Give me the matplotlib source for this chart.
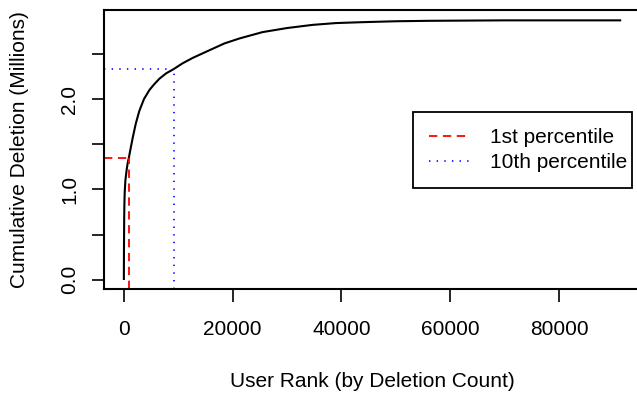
import matplotlib
matplotlib.use("Agg")
import matplotlib.pyplot as plt
from matplotlib.patches import Rectangle

plt.rcParams['font.family'] = ['Liberation Sans', 'DejaVu Sans']
plt.rcParams['lines.scale_dashes'] = False

# user rank vs cumulative deletions (millions)
rank = [1, 10, 30, 60, 100, 150, 280, 520, 700, 913, 1200, 1620, 2200, 2850,
        3700, 4700, 5600, 6540, 7800, 9130, 10800, 12670, 15750, 18500, 21270,
        25500, 30000, 34700, 39000, 43900, 50000, 56260, 70000, 91250]
cum_deletion = [0.01, 0.20, 0.45, 0.68, 0.85, 0.96, 1.10, 1.22, 1.29, 1.35, 1.44, 1.57, 1.73, 1.87,
                2.00, 2.10, 2.165, 2.225, 2.285, 2.33, 2.395, 2.455, 2.54, 2.615, 2.67,
                2.74, 2.785, 2.82, 2.84, 2.85, 2.86, 2.865, 2.87, 2.87]

p1_rank, p1_value = 913, 1.35     # 1st percentile
p10_rank, p10_value = 9130, 2.33  # 10th percentile

yticks = [0.0, 0.5, 1.0, 1.5, 2.0, 2.5]
ytick_labels = ['0.0', '', '1.0', '', '2.0', '']
xticks = [0, 20000, 40000, 60000, 80000]

FS = 15

fig = plt.figure(figsize=(6.37, 3.94), dpi=100)
ax = fig.add_axes([0.1633, 0.2657, 0.8414, 0.7089])

# R style 4% padding
xr = rank[-1] - rank[0]
xmin, xmax = rank[0] - 0.04 * xr, rank[-1] + 0.04 * xr
yr = max(cum_deletion) - min(cum_deletion)
ymin, ymax = min(cum_deletion) - 0.04 * yr, max(cum_deletion) + 0.04 * yr

ax.plot(rank, cum_deletion, color='black', linewidth=1.5)

ax.plot([xmin, p1_rank], [p1_value, p1_value], color='red', linewidth=1.3,
        dashes=(6, 4), label='1st percentile')
ax.plot([p1_rank, p1_rank], [ymin, p1_value], color='red', linewidth=1.3, dashes=(6, 4))
ax.plot([xmin, p10_rank], [p10_value, p10_value], color='blue', linewidth=1.2,
        dashes=(1, 4.5), label='10th percentile')
ax.plot([p10_rank, p10_rank], [ymin, p10_value], color='blue', linewidth=1.2, dashes=(1, 4.5))

ax.set_xlim(xmin, xmax)
ax.set_ylim(ymin, ymax)

ax.set_xticks(xticks)
ax.set_xticklabels([str(x) for x in xticks])
ax.set_yticks(yticks)
ax.set_yticklabels(ytick_labels, rotation=90, va='center')
ax.tick_params(axis='both', direction='out', length=9, width=1.2, labelsize=FS, color='black')
ax.tick_params(axis='x', pad=13)
ax.tick_params(axis='y', pad=9)

for s in ax.spines.values():
    s.set_linewidth(1.5)

ax.set_xlabel('User Rank (by Deletion Count)', fontsize=FS, labelpad=24)
ax.set_ylabel('Cumulative Deletion (Millions)', fontsize=FS, labelpad=22)

# legend box drawn by hand (R legends are tight on the right)
ax.add_patch(Rectangle((0.5765, 0.3626), 0.4085, 0.2722, transform=ax.transAxes,
                       facecolor='white', edgecolor='black', linewidth=1.3, zorder=4))
leg = ax.legend(loc='upper left', bbox_to_anchor=(0.607, 0.577), fontsize=FS,
                frameon=False, handlelength=1.9, handletextpad=1.0, borderpad=0,
                labelspacing=0.3, borderaxespad=0)
leg.set_zorder(5)

fig.savefig('out.png', dpi=100)
